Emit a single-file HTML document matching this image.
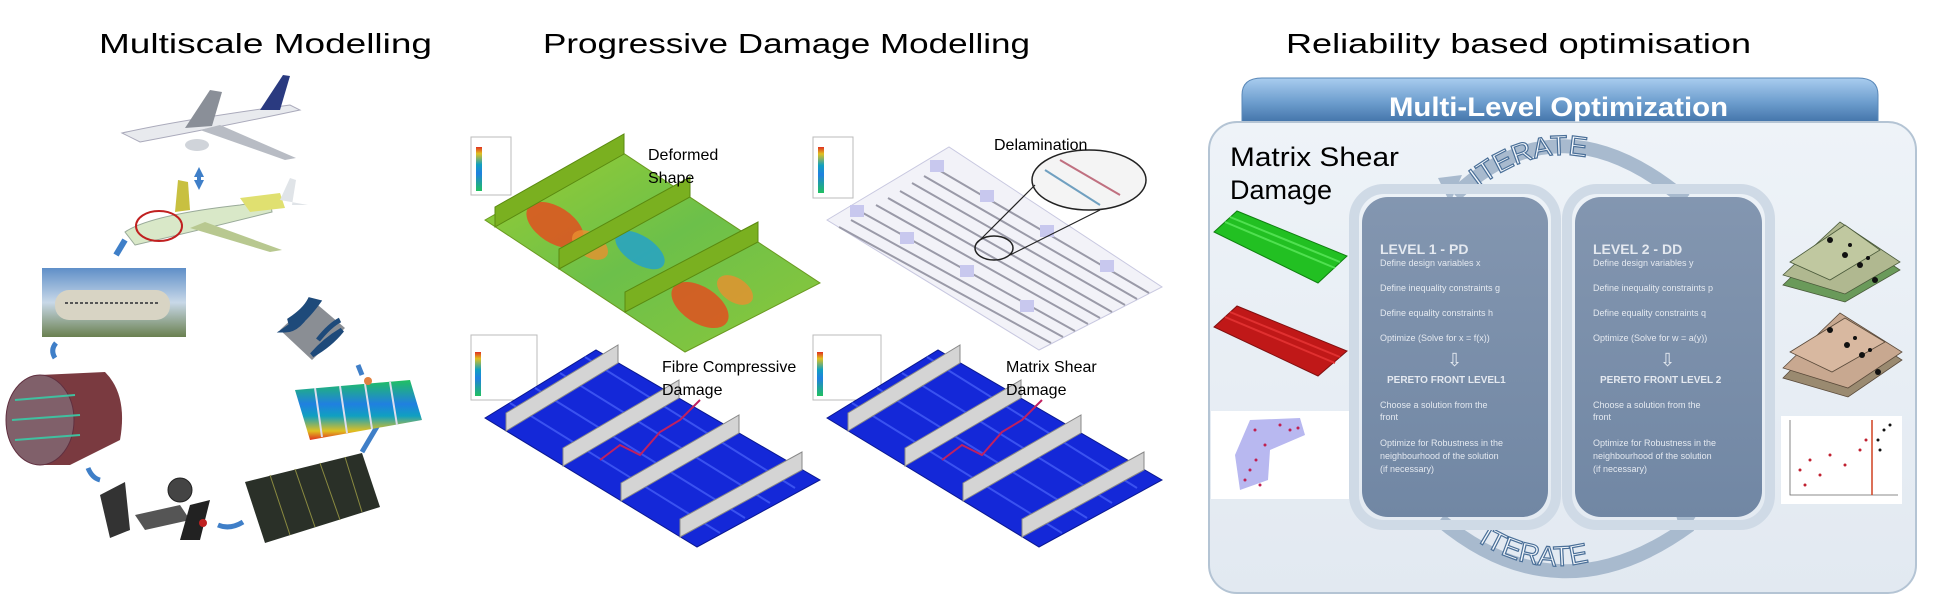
<!DOCTYPE html>
<html><head><meta charset="utf-8"><style>
html,body{margin:0;padding:0;background:#fff}
svg{display:block}
text{font-family:"Liberation Sans",sans-serif}
</style></head><body>
<svg width="1934" height="610" viewBox="0 0 1934 610" xmlns="http://www.w3.org/2000/svg">
<defs>
<linearGradient id="hdr" x1="0" y1="0" x2="0" y2="1"><stop offset="0" stop-color="#a9cdef"/><stop offset="0.5" stop-color="#6f9fcf"/><stop offset="1" stop-color="#3d6fa5"/></linearGradient>
<linearGradient id="box" x1="0" y1="0" x2="0" y2="1"><stop offset="0" stop-color="#eef3f8"/><stop offset="1" stop-color="#e2e9f1"/></linearGradient>
<linearGradient id="pan" x1="0" y1="0" x2="0" y2="1"><stop offset="0" stop-color="#8396b0"/><stop offset="1" stop-color="#7187a4"/></linearGradient>
<linearGradient id="grn" x1="0" y1="0" x2="1" y2="1"><stop offset="0" stop-color="#9acd32"/><stop offset="0.5" stop-color="#6cc04a"/><stop offset="1" stop-color="#8cc83a"/></linearGradient>
<linearGradient id="heat" x1="0" y1="0" x2="0" y2="1"><stop offset="0" stop-color="#20c060"/><stop offset="0.4" stop-color="#2080e0"/><stop offset="0.6" stop-color="#10a0c0"/><stop offset="0.85" stop-color="#e0c020"/><stop offset="1" stop-color="#e03020"/></linearGradient>
<linearGradient id="sky" x1="0" y1="0" x2="0" y2="1"><stop offset="0" stop-color="#5f8fc8"/><stop offset="0.5" stop-color="#c8d8e8"/><stop offset="1" stop-color="#6a8050"/></linearGradient>
<marker id="ah" markerUnits="userSpaceOnUse" markerWidth="10" markerHeight="10" refX="5" refY="5" orient="auto"><path d="M0,0 L10,5 L0,10 z" fill="#3f7fc8"/></marker>
<marker id="ahs" markerUnits="userSpaceOnUse" markerWidth="10" markerHeight="10" refX="5" refY="5" orient="auto-start-reverse"><path d="M0,0 L10,5 L0,10 z" fill="#3f7fc8"/></marker>
</defs>

<!-- Titles -->
<text x="99" y="53" font-size="28" textLength="333" lengthAdjust="spacingAndGlyphs">Multiscale Modelling</text>
<text x="543" y="53" font-size="28" textLength="487" lengthAdjust="spacingAndGlyphs">Progressive Damage Modelling</text>
<text x="1286" y="53" font-size="28" textLength="465" lengthAdjust="spacingAndGlyphs">Reliability based optimisation</text>

<!-- ===== Left column ===== -->
<g>
<path d="M122,133 Q180,120 290,105 L300,110 Q230,125 140,142 Z" fill="#e8eaee" stroke="#aab" stroke-width="1"/>
<path d="M185,128 L210,90 L222,92 L212,126 Z" fill="#8a8f98"/>
<path d="M200,130 L285,160 L296,158 L220,125 Z" fill="#b8bcc4"/>
<path d="M260,110 L283,75 L290,76 L280,110 Z" fill="#2a3a80"/>
<ellipse cx="197" cy="145" rx="12" ry="6" fill="#d0d4da"/>
</g>
<path d="M199,172 L199,185" stroke="#3f7fc8" stroke-width="4" marker-end="url(#ah)" marker-start="url(#ahs)"/>
<g>
<path d="M125,232 Q150,215 240,205 L270,200 L272,212 Q200,230 135,245 Z" fill="#d9e8c8" stroke="#9a9" stroke-width="1"/>
<path d="M240,198 L280,193 L285,208 L250,212 Z" fill="#e0e070"/>
<path d="M175,212 L178,180 L188,182 L190,210 Z" fill="#c8c040"/>
<path d="M280,200 L290,178 L296,180 L292,205 L308,205 Z" fill="#e0e4e8"/>
<path d="M190,228 L270,252 L282,250 L205,222 Z" fill="#b8c890"/>
<ellipse cx="159" cy="226" rx="23" ry="15" fill="none" stroke="#c02020" stroke-width="2"/>
<path d="M125,240 L116,255" stroke="#3f7fc8" stroke-width="6"/>
</g>
<rect x="42" y="268" width="144" height="69" fill="url(#sky)"/>
<rect x="55" y="290" width="115" height="30" rx="14" fill="#d8d4c4"/>
<line x1="65" y1="303" x2="160" y2="303" stroke="#555" stroke-width="2" stroke-dasharray="3,2"/>
<path d="M55,358 Q50,350 56,343" stroke="#3f7fc8" stroke-width="5" fill="none"/>
<g>
<path d="M40,375 L105,372 Q128,395 120,440 L70,465 L40,465 Z" fill="#7a3a40"/>
<ellipse cx="40" cy="420" rx="34" ry="45" fill="#80606a" stroke="#603040"/>
<path d="M15,400 L75,395 M12,420 L80,415 M15,440 L80,435" stroke="#40c0a0" stroke-width="2"/>
</g>
<path d="M88,468 Q92,478 100,480" stroke="#3f7fc8" stroke-width="5" fill="none"/>
<g>
<path d="M100,495 L125,482 L130,530 L110,538 Z" fill="#333"/>
<path d="M135,515 L180,505 L190,520 L145,530 Z" fill="#555"/>
<circle cx="180" cy="490" r="12" fill="#444" stroke="#222"/>
<path d="M190,505 L210,500 L200,540 L180,540 Z" fill="#222"/>
<circle cx="203" cy="523" r="4" fill="#c02020"/>
</g>
<path d="M218,525 Q230,530 243,522" stroke="#3f7fc8" stroke-width="5" fill="none"/>
<path d="M245,482 L362,453 L380,507 L265,543 Z" fill="#2a3028"/>
<path d="M270,475 L290,535 M295,469 L315,527 M320,463 L340,520 M345,457 L362,512" stroke="#8a8a40" stroke-width="1"/>
<path d="M362,452 Q372,435 378,425" stroke="#3f7fc8" stroke-width="5" fill="none"/>
<path d="M295,390 L410,380 L422,420 L310,440 Z" fill="url(#heat)"/>
<path d="M315,388 L322,437 M340,386 L347,433 M365,384 L372,429 M390,382 L397,425" stroke="#dde" stroke-width="2"/>
<circle cx="368" cy="381" r="4" fill="#e08040"/>
<path d="M362,375 L358,365" stroke="#3f7fc8" stroke-width="5"/>
<path d="M280,330 L312,300 L345,328 L312,360 Z" fill="#8a8e94"/>
<path d="M285,330 Q300,320 312,305 Q300,330 285,330 Z M312,355 Q325,340 342,330 Q330,345 312,355 Z M290,320 Q305,310 310,300 L318,302 Q305,320 292,328 Z M318,340 Q330,325 340,320" fill="#1e4a7a" stroke="#1e4a7a" stroke-width="5"/>

<!-- ===== Middle column ===== -->
<rect x="471" y="137" width="40" height="58" fill="#fff" stroke="#bbb"/>
<rect x="476" y="147" width="6" height="44" fill="url(#heat)" transform="rotate(180 479 169)"/>
<path d="M485,220 L614,147 L820,283 L685,352 Z" fill="url(#grn)" stroke="#6a9a20"/>
<ellipse cx="555" cy="225" rx="32" ry="18" fill="#e05020" opacity="0.85" transform="rotate(33 555 225)"/>
<ellipse cx="590" cy="245" rx="20" ry="12" fill="#e89030" opacity="0.8" transform="rotate(33 590 245)"/>
<ellipse cx="640" cy="250" rx="28" ry="14" fill="#20a0d0" opacity="0.8" transform="rotate(33 640 250)"/>
<ellipse cx="700" cy="305" rx="32" ry="18" fill="#e05020" opacity="0.85" transform="rotate(33 700 305)"/>
<ellipse cx="735" cy="290" rx="20" ry="12" fill="#e89030" opacity="0.8" transform="rotate(33 735 290)"/>
<path d="M495,227 L624,154 L624,134 L495,207 Z" fill="#7ab020" stroke="#5a8a10"/>
<path d="M559,269 L690,197 L690,177 L559,249 Z" fill="#7ab020" stroke="#5a8a10"/>
<path d="M625,312 L758,242 L758,222 L625,292 Z" fill="#7ab020" stroke="#5a8a10"/>
<text x="648" y="160" font-size="16">Deformed</text>
<text x="648" y="183" font-size="16">Shape</text>

<rect x="813" y="137" width="40" height="61" fill="#fff" stroke="#bbb"/>
<rect x="818" y="147" width="6" height="46" fill="url(#heat)" transform="rotate(180 821 170)"/>
<path d="M827,220 L949,147 L1162,287 L1039,350 Z" fill="#f2f2f8" stroke="#c8c8e0"/>
<g stroke="#9a9aa8" stroke-width="2">
<path d="M839,227 L1051,343 M851,220 L1063,337 M863,213 L1075,331 M876,205 L1088,324 M888,198 L1100,318 M900,191 L1112,312 M912,183 L1125,305 M924,176 L1137,299 M937,169 L1149,293"/>
</g>
<g fill="#c8c8ee">
<rect x="850" y="205" width="14" height="12"/><rect x="900" y="232" width="14" height="12"/><rect x="960" y="265" width="14" height="12"/><rect x="1020" y="300" width="14" height="12"/>
<rect x="930" y="160" width="14" height="12"/><rect x="980" y="190" width="14" height="12"/><rect x="1040" y="225" width="14" height="12"/><rect x="1100" y="260" width="14" height="12"/>
</g>
<ellipse cx="994" cy="248" rx="19" ry="12" fill="none" stroke="#222" stroke-width="1.5"/>
<ellipse cx="1089" cy="180" rx="57" ry="30" fill="#f4f4f4" stroke="#222" stroke-width="1.5"/>
<line x1="977" y1="243" x2="1035" y2="185" stroke="#222" stroke-width="1.2"/>
<line x1="1010" y1="255" x2="1100" y2="210" stroke="#222" stroke-width="1.2"/>
<path d="M1060,160 L1120,195" stroke="#c07080" stroke-width="2"/>
<path d="M1045,170 L1100,205" stroke="#70a0c0" stroke-width="2"/>
<text x="994" y="150" font-size="16">Delamination</text>

<rect x="471" y="335" width="66" height="65" fill="#fff" stroke="#bbb"/>
<rect x="475" y="352" width="6" height="44" fill="url(#heat)" transform="rotate(180 478 374)"/>
<path d="M485,418 L596,350 L820,480 L697,547 Z" fill="#1428d8" stroke="#0a1890"/>
<g stroke="#3a52f0" stroke-width="2"><path d="M510,403 L720,533 M535,388 L745,518 M560,373 L770,503 M585,357 L795,488"/></g>
<path d="M600,460 L620,445 L640,455 L660,432 L680,420 L700,400" stroke="#c02060" stroke-width="2" fill="none"/>
<g fill="#d4d4d4" stroke="#888">
<path d="M506,431 L618,363 L618,345 L506,413 Z"/>
<path d="M563,466 L679,398 L679,380 L563,448 Z"/>
<path d="M621,501 L739,433 L739,415 L621,483 Z"/>
<path d="M680,537 L802,470 L802,452 L680,519 Z"/>
</g>
<text x="662" y="372" font-size="16">Fibre Compressive</text>
<text x="662" y="395" font-size="16">Damage</text>

<rect x="813" y="335" width="68" height="65" fill="#fff" stroke="#bbb"/>
<rect x="817" y="352" width="6" height="44" fill="url(#heat)" transform="rotate(180 820 374)"/>
<path d="M827,418 L938,350 L1162,480 L1039,547 Z" fill="#1428d8" stroke="#0a1890"/>
<g stroke="#3a52f0" stroke-width="2"><path d="M852,403 L1062,533 M877,388 L1087,518 M902,373 L1112,503 M927,357 L1137,488"/></g>
<path d="M942,460 L962,445 L982,455 L1002,432 L1022,420 L1042,400" stroke="#c02060" stroke-width="2" fill="none"/>
<g fill="#d4d4d4" stroke="#888">
<path d="M848,431 L960,363 L960,345 L848,413 Z"/>
<path d="M905,466 L1021,398 L1021,380 L905,448 Z"/>
<path d="M963,501 L1081,433 L1081,415 L963,483 Z"/>
<path d="M1022,537 L1144,470 L1144,452 L1022,519 Z"/>
</g>
<text x="1006" y="372" font-size="16">Matrix Shear</text>
<text x="1006" y="395" font-size="16">Damage</text>

<!-- ===== Right column ===== -->
<path d="M1242,125 L1242,95 Q1242,78 1262,78 L1858,78 Q1878,78 1878,95 L1878,125 Z" fill="url(#hdr)" stroke="#5a88b8"/>
<rect x="1209" y="122" width="707" height="471" rx="28" fill="url(#box)" stroke="#b4c4d4" stroke-width="2"/>
<text x="1389" y="116" font-size="27" font-weight="bold" fill="#fff" textLength="339" lengthAdjust="spacingAndGlyphs">Multi-Level Optimization</text>

<text x="1230" y="166" font-size="27" textLength="169" lengthAdjust="spacingAndGlyphs">Matrix Shear</text>
<text x="1230" y="199" font-size="27">Damage</text>

<path d="M1455,195 Q1560,95 1685,200" stroke="#a8bace" stroke-width="14" fill="none"/>
<path d="M1438,178 L1462,175 L1450,203 Z" fill="#a8bace"/>
<path d="M1440,520 Q1560,620 1690,525" stroke="#a8bace" stroke-width="14" fill="none"/>
<path d="M1700,510 L1682,538 L1676,515 Z" fill="#a8bace"/>
<path id="tp1" d="M1478,188 Q1560,125 1640,182" fill="none"/>
<path id="tp2" d="M1478,542 Q1555,590 1635,542" fill="none"/>
<text font-size="28" fill="#f4f8fc" stroke="#4a6f98" stroke-width="1.2"><textPath href="#tp1">ITERATE</textPath></text>
<text font-size="28" fill="#f4f8fc" stroke="#4a6f98" stroke-width="1.2"><textPath href="#tp2">ITERATE</textPath></text>

<rect x="1354" y="189" width="202" height="336" rx="30" fill="none" stroke="#cfdae6" stroke-width="10"/>
<rect x="1362" y="197" width="186" height="320" rx="26" fill="url(#pan)"/>
<rect x="1567" y="189" width="203" height="336" rx="30" fill="none" stroke="#cfdae6" stroke-width="10"/>
<rect x="1575" y="197" width="187" height="320" rx="26" fill="url(#pan)"/>
<g fill="#e4e9f0" font-size="9">
<text x="1380" y="254" font-size="14" font-weight="bold">LEVEL 1 - PD</text>
<text x="1380" y="266">Define design variables x</text>
<text x="1380" y="291">Define inequality constraints g</text>
<text x="1380" y="316">Define equality constraints  h</text>
<text x="1380" y="341">Optimize (Solve for x = f(x))</text>
<text x="1447" y="366" font-size="18">⇩</text>
<text x="1387" y="383" font-size="10" font-weight="bold">PERETO FRONT LEVEL1</text>
<text x="1380" y="408">Choose a solution from the</text>
<text x="1380" y="420">front</text>
<text x="1380" y="446">Optimize for Robustness in the</text>
<text x="1380" y="459">neighbourhood  of the solution</text>
<text x="1380" y="472">(if necessary)</text>
<text x="1593" y="254" font-size="14" font-weight="bold">LEVEL 2 - DD</text>
<text x="1593" y="266">Define design variables y</text>
<text x="1593" y="291">Define inequality constraints p</text>
<text x="1593" y="316">Define equality constraints  q</text>
<text x="1593" y="341">Optimize (Solve for w = a(y))</text>
<text x="1660" y="366" font-size="18">⇩</text>
<text x="1600" y="383" font-size="10" font-weight="bold">PERETO FRONT LEVEL 2</text>
<text x="1593" y="408">Choose a solution from the</text>
<text x="1593" y="420">front</text>
<text x="1593" y="446">Optimize for Robustness in the</text>
<text x="1593" y="459">neighbourhood  of the solution</text>
<text x="1593" y="472">(if necessary)</text>
</g>

<path d="M1214,232 L1237,211 L1347,256 L1318,283 Z" fill="#22c022" stroke="#108010"/>
<path d="M1225,222 L1335,268 M1230,217 L1340,262" stroke="#50e050" stroke-width="2"/>
<path d="M1214,327 L1237,306 L1347,351 L1318,376 Z" fill="#c01818" stroke="#801010"/>
<path d="M1225,317 L1335,363 M1230,312 L1340,357" stroke="#e03030" stroke-width="2"/>
<rect x="1211" y="411" width="138" height="88" fill="#fff"/>
<path d="M1250,420 L1300,418 L1305,435 L1270,450 L1268,480 L1240,490 L1235,455 Z" fill="#b8b8f0"/>
<g fill="#c02050"><circle cx="1255" cy="430" r="1.5"/><circle cx="1265" cy="445" r="1.5"/><circle cx="1280" cy="425" r="1.5"/><circle cx="1290" cy="430" r="1.5"/><circle cx="1250" cy="470" r="1.5"/><circle cx="1245" cy="480" r="1.5"/><circle cx="1260" cy="485" r="1.5"/><circle cx="1298" cy="428" r="1.5"/><circle cx="1256" cy="460" r="1.5"/></g>
<g stroke="#4a5a3a" stroke-width="0.8">
<path d="M1783,285 L1840,230 L1900,270 L1845,302 Z" fill="#6a9a5a"/>
<path d="M1783,275 L1840,222 L1900,262 L1845,294 Z" fill="#b0b890"/>
<path d="M1790,262 L1845,225 L1880,250 L1830,280 Z" fill="#c0c8a0"/>
</g>
<g fill="#111"><circle cx="1830" cy="240" r="3"/><circle cx="1845" cy="255" r="3"/><circle cx="1860" cy="265" r="3"/><circle cx="1875" cy="280" r="3"/><circle cx="1850" cy="245" r="2"/><circle cx="1868" cy="258" r="2"/></g>
<g stroke="#5a4a3a" stroke-width="0.8">
<path d="M1783,378 L1840,320 L1902,360 L1848,397 Z" fill="#9a8a70"/>
<path d="M1783,368 L1840,313 L1902,352 L1848,388 Z" fill="#c8a890"/>
<path d="M1790,352 L1845,318 L1885,342 L1832,372 Z" fill="#d8b8a0"/>
</g>
<g fill="#111"><circle cx="1830" cy="330" r="3"/><circle cx="1847" cy="345" r="3"/><circle cx="1862" cy="355" r="3"/><circle cx="1878" cy="372" r="3"/><circle cx="1855" cy="338" r="2"/><circle cx="1870" cy="350" r="2"/></g>
<rect x="1781" y="416" width="121" height="88" fill="#fff"/>
<path d="M1790,420 L1790,495 L1898,495" stroke="#666" fill="none" stroke-width="0.8"/>
<line x1="1872" y1="420" x2="1872" y2="495" stroke="#d04020" stroke-width="1.5"/>
<g fill="#c02030"><circle cx="1800" cy="470" r="1.5"/><circle cx="1810" cy="460" r="1.5"/><circle cx="1820" cy="475" r="1.5"/><circle cx="1830" cy="455" r="1.5"/><circle cx="1845" cy="465" r="1.5"/><circle cx="1860" cy="450" r="1.5"/><circle cx="1866" cy="440" r="1.5"/><circle cx="1805" cy="485" r="1.5"/></g>
<g fill="#111"><circle cx="1878" cy="440" r="1.5"/><circle cx="1884" cy="430" r="1.5"/><circle cx="1890" cy="425" r="1.5"/><circle cx="1880" cy="450" r="1.5"/></g>
</svg>
</body></html>
